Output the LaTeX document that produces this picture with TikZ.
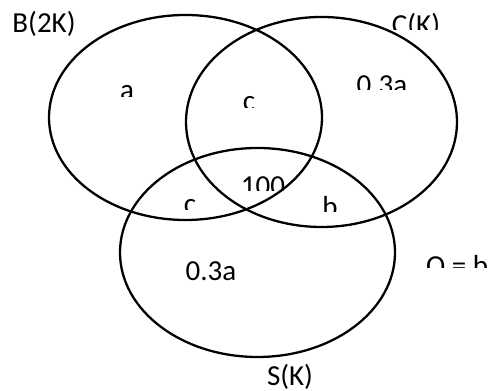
\documentclass[tikz,border=0pt]{standalone}
\usepackage{fontspec}
\setmainfont{Carlito}
\begin{document}
\begin{tikzpicture}[x=0.02cm,y=0.02cm,
  set/.style={line width=1.3pt},
  lbl/.style={anchor=base,inner sep=0pt,font=\fontsize{16.5}{19}\selectfont}]
\useasboundingbox (0,0) rectangle (490,391);

% the three sets
\draw[set] (185.5,273.5) ellipse [x radius=136.5, y radius=102.5];
\draw[set] (321.5,269) ellipse [x radius=135.5, y radius=105];
\draw[set] (257.5,138.5) ellipse [x radius=137.5, y radius=104.5];

\node[lbl] (nameB) at (44,358) {B(2K)};
\node[lbl] (nameS) at (290,5) {S(K)};
\node[lbl] (onlyS) at (211,110) {0.3a};

% labels cut off at the bottom
\begin{scope}
\clip (376,361) rectangle (456,391);
\node[lbl] (nameC) at (416,356) {C(K)};
\end{scope}
\begin{scope}
\clip (107,294) rectangle (147,330);
\node[lbl] (onlyB) at (127,291) {a};
\end{scope}
\begin{scope}
\clip (342,301) rectangle (422,340);
\node[lbl] (onlyC) at (382,296) {0.3a};
\end{scope}
\begin{scope}
\clip (229,283) rectangle (269,320);
\node[lbl] (BC) at (249,280) {c};
\end{scope}
\begin{scope}
\clip (223,200) rectangle (303,240);
\node[lbl] (BCS) at (263,195) {100};
\end{scope}
\begin{scope}
\clip (170,181) rectangle (210,220);
\node[lbl] (BS) at (190,177) {c};
\end{scope}
\begin{scope}
\clip (310,179) rectangle (350,220);
\node[lbl] (CS) at (330,174) {b};
\end{scope}
\begin{scope}
\clip (417,123) rectangle (497,160);
\node[lbl] (other) at (457,115) {O = b};
\end{scope}
\end{tikzpicture}
\end{document}
